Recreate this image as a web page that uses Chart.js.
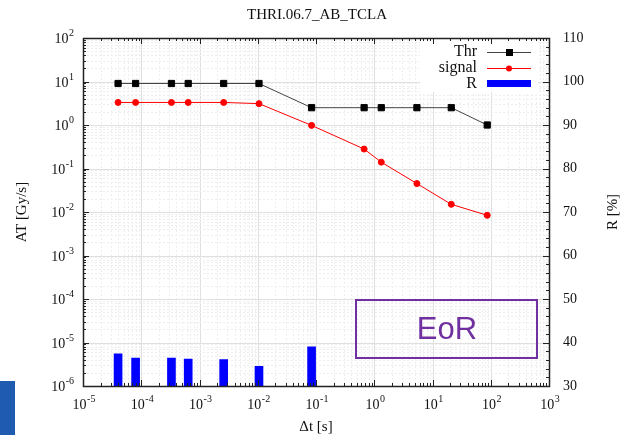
<!DOCTYPE html>
<html>
<head>
<meta charset="utf-8">
<script src="https://cdn.jsdelivr.net/npm/chart.js@4/dist/chart.umd.min.js"></script>
<style>
html, body { margin: 0; padding: 0; background: #fff; }
#wrap { position: relative; width: 632px; height: 435px; }
</style>
</head>
<body>
<div id="wrap"><canvas id="chart"></canvas></div>
<script>
// data
const dt = [4e-5, 8e-5, 3.3e-4, 6.4e-4, 2.6e-3, 1.05e-2, 0.084, 0.67, 1.32, 5.4, 21, 87];
const thr = [9, 9, 9, 9, 9, 9, 2.5, 2.5, 2.5, 2.5, 2.5, 1.0];
const signal = [3.3, 3.3, 3.3, 3.3, 3.3, 3.1, 0.98, 0.28, 0.14, 0.045, 0.015, 0.0084];
const rPct = [37.4, 36.4, 36.4, 36.2, 36.1, 34.5, 39.0];   // only first 7 time steps
const xDecades = [-5, -4, -3, -2, -1, 0, 1, 2, 3];
const yDecades = [-6, -5, -4, -3, -2, -1, 0, 1, 2];
const rTicks = [30, 40, 50, 60, 70, 80, 90, 100, 110];

const serif = '"Liberation Serif", "Times New Roman", serif';

function pts(ys) {
    return ys.map((v, i) => ({ x: dt[i], y: v }));
}

function logVals(decades) {
    const out = [];
    decades.forEach((d, i) => {
        for (let k = 1; k <= 9; k++) {
            if (i === decades.length - 1 && k > 1) break;
            out.push({ v: k * Math.pow(10, d), major: k === 1 });
        }
    });
    return out;
}

function drawPow(ctx, e, x, y, align) {
    ctx.font = '14px ' + serif;
    const w1 = ctx.measureText('10').width;
    ctx.font = '10px ' + serif;
    const w2 = ctx.measureText(String(e)).width;
    const w = w1 + w2 + 0.5;
    const x0 = align === 'right' ? x - w : x - w / 2;
    ctx.textAlign = 'left';
    ctx.textBaseline = 'alphabetic';
    ctx.font = '14px ' + serif;
    ctx.fillText('10', x0, y);
    ctx.font = '10px ' + serif;
    ctx.fillText(String(e), x0 + w1 + 0.5, y - 7);
}

const gridPlugin = {
    id: 'gnuGrid',
    beforeDatasetsDraw(chart) {
        const { ctx, chartArea: a, scales } = chart;
        ctx.save();
        ctx.lineWidth = 1;
        logVals(xDecades).forEach(t => {
            const px = Math.round(scales.x.getPixelForValue(t.v)) + 0.5;
            ctx.strokeStyle = t.major ? '#e0e0e0' : '#eeeeee';
            ctx.setLineDash(t.major ? [] : [2, 2]);
            ctx.beginPath(); ctx.moveTo(px, a.top); ctx.lineTo(px, a.bottom); ctx.stroke();
        });
        logVals(yDecades).forEach(t => {
            const py = Math.round(scales.y.getPixelForValue(t.v)) + 0.5;
            ctx.strokeStyle = t.major ? '#e0e0e0' : '#eeeeee';
            ctx.setLineDash(t.major ? [] : [2, 2]);
            ctx.beginPath(); ctx.moveTo(a.left, py); ctx.lineTo(a.right, py); ctx.stroke();
        });
        // legend background hides the grid
        ctx.fillStyle = '#fff';
        ctx.fillRect(420, 40, 118, 52);
        ctx.restore();
    },
    afterDraw(chart) {
        const { ctx, chartArea: a, scales } = chart;
        ctx.save();
        // frame
        ctx.strokeStyle = '#222';
        ctx.lineWidth = 1.5;
        ctx.strokeRect(a.left + 0.5, a.top + 0.5, a.right - a.left, a.bottom - a.top);

        // tick marks, pointing inwards
        ctx.lineWidth = 1;
        ctx.beginPath();
        logVals(xDecades).forEach(t => {
            const px = Math.round(scales.x.getPixelForValue(t.v)) + 0.5;
            const len = t.major ? 6 : 3;
            ctx.moveTo(px, a.bottom); ctx.lineTo(px, a.bottom - len);
            ctx.moveTo(px, a.top); ctx.lineTo(px, a.top + len);
        });
        logVals(yDecades).forEach(t => {
            const py = Math.round(scales.y.getPixelForValue(t.v)) + 0.5;
            const len = t.major ? 6 : 3;
            ctx.moveTo(a.left, py); ctx.lineTo(a.left + len, py);
        });
        for (let r = 30; r <= 110; r += 2) {
            const py = Math.round(scales.y2.getPixelForValue(r)) + 0.5;
            const len = r % 10 === 0 ? 6 : 3;
            ctx.moveTo(a.right, py); ctx.lineTo(a.right - len, py);
        }
        ctx.stroke();

        // tick labels
        ctx.fillStyle = '#111';
        xDecades.forEach(d => {
            drawPow(ctx, d, scales.x.getPixelForValue(Math.pow(10, d)) + 1, a.bottom + 23, 'center');
        });
        yDecades.forEach(d => {
            drawPow(ctx, d, a.left - 9, scales.y.getPixelForValue(Math.pow(10, d)) + 5, 'right');
        });
        ctx.font = '14px ' + serif;
        ctx.textAlign = 'left';
        ctx.textBaseline = 'middle';
        rTicks.forEach(r => ctx.fillText(String(r), a.right + 14, scales.y2.getPixelForValue(r)));

        // titles
        ctx.font = '15px ' + serif;
        ctx.textAlign = 'center';
        ctx.fillText('THRI.06.7_AB_TCLA', 317, 15);
        ctx.fillText('\u0394t [s]', 316, 427);
        ctx.save();
        ctx.translate(22, 212); ctx.rotate(-Math.PI / 2);
        ctx.fillText('AT [Gy/s]', 0, 0);
        ctx.restore();
        ctx.save();
        ctx.translate(613, 212); ctx.rotate(-Math.PI / 2);
        ctx.fillText('R [%]', 0, 0);
        ctx.restore();

        // legend
        ctx.font = '16px ' + serif;
        ctx.textAlign = 'right';
        ctx.fillText('Thr', 477, 52);
        ctx.fillText('signal', 477, 68);
        ctx.fillText('R', 477, 84);
        ctx.lineWidth = 1;
        ctx.strokeStyle = '#444';
        ctx.beginPath(); ctx.moveTo(487, 52.5); ctx.lineTo(531, 52.5); ctx.stroke();
        ctx.fillStyle = '#000';
        ctx.fillRect(506, 49, 7, 7);
        ctx.strokeStyle = '#ff0000';
        ctx.beginPath(); ctx.moveTo(487, 68.5); ctx.lineTo(531, 68.5); ctx.stroke();
        ctx.fillStyle = '#ff0000';
        ctx.beginPath(); ctx.arc(509, 68.5, 3, 0, Math.PI * 2); ctx.fill();
        ctx.fillStyle = '#0000ff';
        ctx.fillRect(487, 80, 44, 7);

        // EoR box
        ctx.strokeStyle = '#7030a0';
        ctx.lineWidth = 2;
        ctx.strokeRect(356, 300, 181, 58);
        ctx.fillStyle = '#7030a0';
        ctx.font = '31px "Liberation Sans", Arial, sans-serif';
        ctx.textAlign = 'center';
        ctx.textBaseline = 'middle';
        ctx.fillText('EoR', 447, 330);

        // slide accent bottom-left
        ctx.fillStyle = '#1f5bb0';
        ctx.fillRect(0, 381, 15, 54);
        ctx.restore();
    }
};

const hidden = {
    ticks: { display: false },
    grid: { display: false, drawTicks: false },
    border: { display: false },
    title: { display: false }
};

new Chart(document.getElementById('chart'), {
    type: 'line',
    plugins: [gridPlugin],
    data: {
        datasets: [{
            label: 'Thr',
            data: pts(thr),
            borderColor: '#444',
            backgroundColor: '#000',
            pointBackgroundColor: '#000',
            pointBorderColor: '#000',
            pointStyle: 'rect',
            pointRadius: 4.4,
            borderWidth: 1,
            yAxisID: 'y'
        }, {
            label: 'signal',
            data: pts(signal),
            borderColor: '#ff0000',
            backgroundColor: '#ff0000',
            pointBackgroundColor: '#ff0000',
            pointBorderColor: '#ff0000',
            pointStyle: 'circle',
            pointRadius: 3,
            borderWidth: 1,
            yAxisID: 'y'
        }, {
            type: 'bar',
            label: 'R',
            data: pts(rPct),
            backgroundColor: '#0000ff',
            barThickness: 8,
            grouped: false,
            yAxisID: 'y2'
        }]
    },
    options: {
        responsive: true,
        maintainAspectRatio: false,
        animation: false,
        layout: {
            padding: { left: 83, right: 83, top: 38, bottom: 49 }
        },
        plugins: {
            legend: { display: false },
            tooltip: { enabled: false }
        },
        scales: {
            x: { type: 'logarithmic', min: 1e-5, max: 1e3, offset: false, ...hidden },
            y: { type: 'logarithmic', position: 'left', min: 1e-6, max: 1e2, ...hidden },
            y2: { type: 'linear', position: 'right', min: 30, max: 110, ...hidden }
        }
    }
});
</script>
</body>
</html>
